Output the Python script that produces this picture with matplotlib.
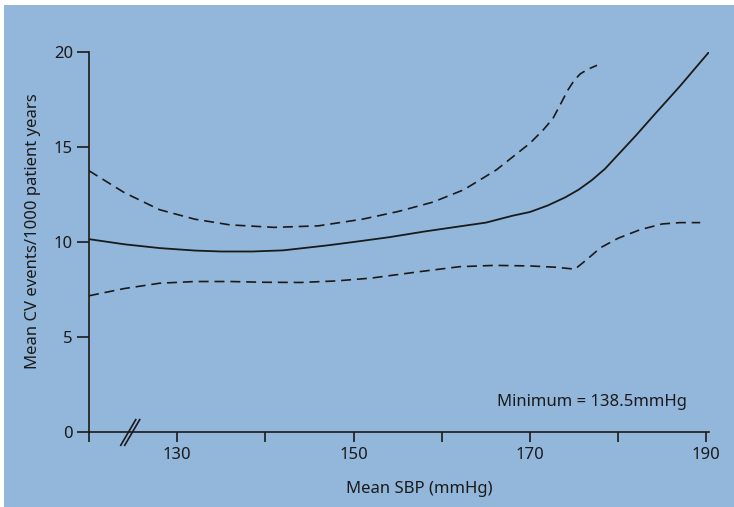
import matplotlib
matplotlib.use("Agg")
import matplotlib.pyplot as plt
from matplotlib.patches import Rectangle

# Mean CV event rate vs mean SBP, with 95% limits
mean_x = [120, 124, 128, 132, 135, 138.5, 142, 147, 150, 154, 158, 162, 165,
          168, 170, 172, 174, 175.5, 177, 178.5, 180, 182, 184, 187, 190.3]
mean_y = [10.15, 9.88, 9.68, 9.55, 9.5, 9.5, 9.56, 9.82, 10.0, 10.25, 10.55, 10.82,
          11.02, 11.38, 11.58, 11.92, 12.35, 12.75, 13.25, 13.85, 14.6, 15.6, 16.65,
          18.2, 20.0]

upper_x = [120, 124, 128, 132, 136, 141, 146, 151, 155, 159, 162.5, 166.2, 168.1,
           170.0, 171.5, 172.6, 173.4, 174.3, 175.0, 175.7, 176.6, 177.6]
upper_y = [13.75, 12.6, 11.7, 11.2, 10.9, 10.77, 10.85, 11.2, 11.6, 12.1, 12.75,
           13.8, 14.5, 15.2, 15.9, 16.5, 17.2, 18.0, 18.5, 18.85, 19.1, 19.3]

lower_x = [120, 124, 128, 132, 136, 140, 144, 148, 152, 157.5, 162, 166, 170, 173,
           175.1, 176.5, 178, 180, 182.5, 185, 187, 189.3]
lower_y = [7.17, 7.55, 7.83, 7.92, 7.92, 7.88, 7.87, 7.95, 8.1, 8.44, 8.7, 8.77,
           8.74, 8.67, 8.57, 9.1, 9.7, 10.2, 10.65, 10.95, 11.02, 11.02]

x_ticks = [120, 130, 140, 150, 160, 170, 180, 190]
x_tick_labels = ["", "130", "", "150", "", "170", "", "190"]
y_ticks = [0, 5, 10, 15, 20]

BLUE = "#93b7db"
INK = "#1a1a1a"

plt.rcParams["font.family"] = ["Noto Sans", "DejaVu Sans"]
plt.rcParams["font.size"] = 12

fig = plt.figure(figsize=(7.34, 5.07), dpi=100, facecolor="white")
# blue panel behind the plot (white margin on the left/top)
panel = Rectangle((4 / 734, 0), 1, (507 - 5) / 507, transform=fig.transFigure,
                  facecolor=BLUE, edgecolor="none", zorder=-10)
fig.add_artist(panel)

ax = fig.add_axes([89 / 734, 75 / 507, 620.3 / 734, 380 / 507])
ax.set_facecolor("none")
ax.set_zorder(5)

dash = (0, (6, 3.5))
ax.plot(mean_x, mean_y, color=INK, lw=1.3, solid_capstyle="butt")
ax.plot(upper_x, upper_y, color=INK, lw=1.2, linestyle=dash)
ax.plot(lower_x, lower_y, color=INK, lw=1.2, linestyle=dash)

ax.set_xlim(120, 190.33)
ax.set_ylim(0, 20)
ax.set_xticks(x_ticks)
ax.set_xticklabels(x_tick_labels)
ax.set_yticks(y_ticks)

for side in ["top", "right"]:
    ax.spines[side].set_visible(False)
for side in ["left", "bottom"]:
    ax.spines[side].set_color(INK)
    ax.spines[side].set_linewidth(1.2)
ax.tick_params(axis="x", length=7.5, width=1.2, color=INK, labelcolor=INK, pad=3)
ax.tick_params(axis="y", length=8.5, width=1.2, color=INK, labelcolor=INK, pad=3)

# axis break marks
for off in [0, 0.45]:
    ax.plot([123.6 + off, 125.3 + off], [-0.7, 0.65], color=INK, lw=1.2,
            clip_on=False)

ax.set_xlabel("Mean SBP (mmHg)", color=INK)
ax.xaxis.set_label_coords(0.532, -0.128)
ax.set_ylabel("Mean CV events/1000 patient years", color=INK)
ax.yaxis.set_label_coords(-0.077, 0.529)

ax.text(187.8, 1.6, "Minimum = 138.5mmHg", ha="right", va="center", color=INK)

fig.savefig("out.png", dpi=100, facecolor=fig.get_facecolor())
